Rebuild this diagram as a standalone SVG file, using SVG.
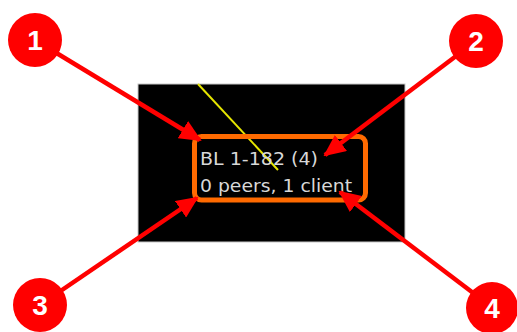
<svg xmlns="http://www.w3.org/2000/svg" width="517" height="332" viewBox="0 0 517 332">
<style>
.num{font-family:"Liberation Sans",Arial,sans-serif;font-weight:bold;font-size:28px;fill:#fff;text-anchor:middle}
.lbl{font-family:"DejaVu Sans",Verdana,sans-serif;font-size:17px;fill:#d8d8d8}
.arr{stroke:#ff0000;stroke-width:4.5;fill:none}
.badge{fill:#ff0000}
</style>
<defs>
<marker id="ah" markerUnits="userSpaceOnUse" markerWidth="22" markerHeight="20" viewBox="0 0 22 20" refX="20" refY="10" orient="auto">
<path d="M0,0 L22,10 L0,20 Z" fill="#ff0000"/>
</marker>
</defs>
<rect width="517" height="332" fill="#ffffff"/>
<g id="screen">
<rect x="138" y="84" width="267" height="158" fill="#000" stroke="#c8c8c8" stroke-width="1"/>
<line x1="198" y1="84" x2="278" y2="170" stroke="#e6e600" stroke-width="2"/>
</g>
<g id="node">
<rect x="194.5" y="136.5" width="171" height="63.5" rx="7" fill="none" stroke="#ff6a00" stroke-width="5"/>
<text class="lbl" x="200" y="165" textLength="118" lengthAdjust="spacingAndGlyphs">BL 1-182 (4)</text>
<text class="lbl" x="200" y="191.5" textLength="152" lengthAdjust="spacingAndGlyphs">0 peers, 1 client</text>
</g>
<g id="connectors">
<line class="arr" x1="35" y1="40" x2="200" y2="140" marker-end="url(#ah)"/>
<line class="arr" x1="476" y1="41" x2="325" y2="155" marker-end="url(#ah)"/>
<line class="arr" x1="40" y1="305" x2="197" y2="198" marker-end="url(#ah)"/>
<line class="arr" x1="493" y1="308" x2="340" y2="192" marker-end="url(#ah)"/>
</g>
<g id="badge1"><circle class="badge" cx="35" cy="40" r="27"/><text class="num" x="35" y="50">1</text></g>
<g id="badge2"><circle class="badge" cx="476" cy="41" r="27"/><text class="num" x="476" y="51">2</text></g>
<g id="badge3"><circle class="badge" cx="40" cy="305" r="27"/><text class="num" x="40" y="315">3</text></g>
<g id="badge4"><circle class="badge" cx="492" cy="308" r="26"/><text class="num" x="492" y="318">4</text></g>
</svg>
